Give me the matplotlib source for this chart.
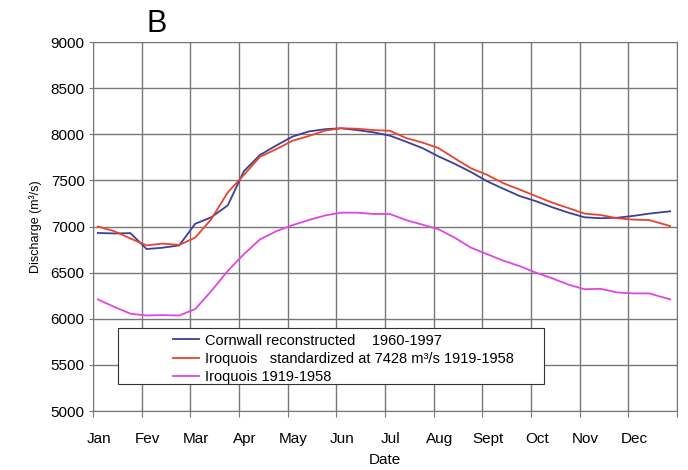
import matplotlib
matplotlib.use('Agg')
import matplotlib.pyplot as plt
from matplotlib.patches import Rectangle

months = ['Jan', 'Fev', 'Mar', 'Apr', 'May', 'Jun', 'Jul', 'Aug', 'Sept', 'Oct', 'Nov', 'Dec']

# position in months from 1 Jan (roughly 10-day means)
t = [0.10, 0.43, 0.77, 1.10, 1.43, 1.77, 2.10, 2.43, 2.77, 3.10, 3.43, 3.77,
     4.10, 4.43, 4.77, 5.10, 5.43, 5.77, 6.10, 6.43, 6.77, 7.10, 7.43, 7.77,
     8.10, 8.43, 8.77, 9.10, 9.43, 9.77, 10.10, 10.43, 10.77, 11.10, 11.43, 11.86]

cornwall = [6930, 6925, 6928, 6756, 6770, 6795, 7030, 7100, 7230, 7600, 7775, 7880,
            7975, 8030, 8055, 8065, 8045, 8020, 7985, 7920, 7850, 7760, 7680, 7590,
            7490, 7410, 7330, 7275, 7210, 7150, 7100, 7090, 7095, 7115, 7140, 7165]

iroquois_std = [7000, 6950, 6870, 6795, 6815, 6800, 6880, 7080, 7370, 7560, 7756, 7840,
                7930, 7980, 8040, 8065, 8060, 8045, 8038, 7960, 7910, 7850, 7740, 7630,
                7560, 7470, 7400, 7330, 7260, 7200, 7140, 7125, 7090, 7075, 7070, 7005]

iroquois = [6210, 6130, 6055, 6035, 6040, 6035, 6105, 6300, 6520, 6700, 6860, 6950,
            7015, 7070, 7120, 7150, 7150, 7136, 7136, 7070, 7020, 6970, 6880, 6770,
            6700, 6630, 6570, 6500, 6440, 6370, 6320, 6325, 6285, 6275, 6275, 6210]

plt.rcParams['font.family'] = ['Liberation Sans', 'DejaVu Sans']

fig = plt.figure(figsize=(6.88, 4.70), dpi=100)
ax = fig.add_axes([0.1352, 0.1255, 0.8488, 0.7851])

ax.plot(t, cornwall, color='#3b3f98', lw=1.3, label='Cornwall reconstructed    1960-1997')
ax.plot(t, iroquois_std, color='#e8432e', lw=1.3, label='Iroquois   standardized at 7428 m\u00b3/s 1919-1958')
ax.plot(t, iroquois, color='#e046e0', lw=1.3, label='Iroquois 1919-1958')

ax.set_xlim(0, 12)
ax.set_ylim(5000, 9000)
ax.set_xticks(range(13))
ax.set_xticklabels([])
ax.set_xticks([i + 0.12 for i in range(12)], minor=True)
ax.set_xticklabels(months, minor=True)
ax.tick_params(axis='x', which='minor', length=0, pad=15, labelsize=11)
ax.tick_params(axis='x', which='major', length=4, color='#777777')
ax.set_yticks(range(5000, 9001, 500))
ax.tick_params(axis='y', length=3, pad=3, labelsize=11, color='#777777')
ax.grid(True, which='major', color='#777777', lw=1)
for s in ax.spines.values():
    s.set_color('#777777')

ax.set_xlabel('Date', fontsize=11, labelpad=5)
ax.set_ylabel('Discharge (m\u00b3/s)', fontsize=9, labelpad=6)

ax.add_patch(Rectangle((0.043, 0.073), 0.729, 0.152, transform=ax.transAxes,
                       facecolor='white', edgecolor='#333333', lw=0.8, zorder=3))
leg = ax.legend(loc='upper left', bbox_to_anchor=(0.137, 0.21), frameon=False,
                borderpad=0, borderaxespad=0, handlelength=1.8, handletextpad=0.4,
                labelspacing=0.3, fontsize=10.5)
leg.set_zorder(4)

fig.text(0.228, 0.932, 'B', fontsize=22, ha='center', va='baseline')

plt.savefig('out.png')
